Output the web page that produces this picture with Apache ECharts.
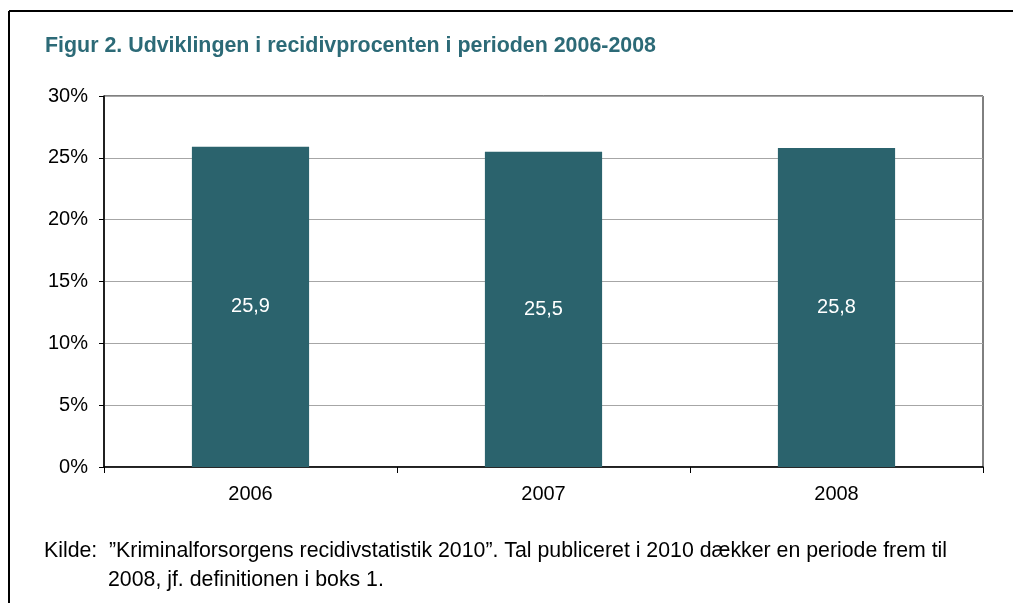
<!DOCTYPE html>
<html>
<head>
<meta charset="utf-8">
<script src="https://cdn.jsdelivr.net/npm/echarts@6/dist/echarts.min.js"></script>
<style>
    html, body { margin: 0; padding: 0; background: #fff; }
    #chart { width: 1013px; height: 603px; }
</style>
</head>
<body>
<div id="chart"></div>
<script>
"use strict";

// chart data
var years = ["2006", "2007", "2008"];
var recidiv = [25.9, 25.5, 25.8];
var yTicks = [0, 5, 10, 15, 20, 25, 30];

var font = "Liberation Sans, Arial, sans-serif";
var chart = echarts.init(document.querySelector("#chart"));

var option = {
    animation: false,
    backgroundColor: "#ffffff",
    title: {
        text: "Figur 2. Udviklingen i recidivprocenten i perioden 2006-2008",
        left: 40,
        top: 31,
        textStyle: {
            fontFamily: font,
            fontSize: 21.4,
            fontWeight: "bold",
            color: "#2c6a77"
        }
    },
    grid: {
        left: 104,
        right: 30,
        top: 96,
        bottom: 136,
        show: true,
        borderColor: "#000",
        borderWidth: 1
    },
    xAxis: {
        type: "category",
        data: years,
        axisLine: { lineStyle: { color: "#000", width: 1.5 } },
        axisTick: { show: true, length: 6, lineStyle: { color: "#000" } },
        axisLabel: { margin: 17, fontFamily: font, fontSize: 20, color: "#000" }
    },
    yAxis: {
        type: "value",
        min: yTicks[0],
        max: yTicks[yTicks.length - 1],
        interval: 5,
        axisLine: { show: true, lineStyle: { color: "#000", width: 1.5 } },
        axisTick: { show: true, length: 5, lineStyle: { color: "#000" } },
        axisLabel: {
            margin: 16,
            fontFamily: font,
            fontSize: 20,
            color: "#000",
            formatter: "{value}%"
        },
        splitLine: { lineStyle: { color: "#a6a6a6", width: 1 } }
    },
    series: [{
        type: "bar",
        data: recidiv,
        barWidth: "40%",
        itemStyle: { color: "#2b636d" },
        label: {
            show: true,
            position: "inside",
            fontFamily: font,
            fontSize: 20,
            color: "#fff",
            formatter: function (p) { return String(p.value).replace(".", ","); }
        }
    }],
    graphic: [
        // figure frame, left + top
        { type: "line", shape: { x1: 9, y1: 11, x2: 9, y2: 603 }, style: { stroke: "#000", lineWidth: 2 } },
        { type: "line", shape: { x1: 9, y1: 11, x2: 1013, y2: 11 }, style: { stroke: "#000", lineWidth: 2 } },
        {
            type: "text", x: 44, y: 551,
            style: { text: "Kilde:", fontFamily: font, fontSize: 21.3, fill: "#000", verticalAlign: "middle" }
        },
        {
            type: "text", x: 109, y: 551,
            style: {
                text: "\u201dKriminalforsorgens recidivstatistik 2010\u201d. Tal publiceret i 2010 d\u00e6kker en periode frem til",
                fontFamily: font, fontSize: 21.3, fill: "#000", verticalAlign: "middle"
            }
        },
        {
            type: "text", x: 108, y: 580,
            style: { text: "2008, jf. definitionen i boks 1.", fontFamily: font, fontSize: 21.3, fill: "#000", verticalAlign: "middle" }
        }
    ]
};

chart.setOption(option);
</script>
</body>
</html>
